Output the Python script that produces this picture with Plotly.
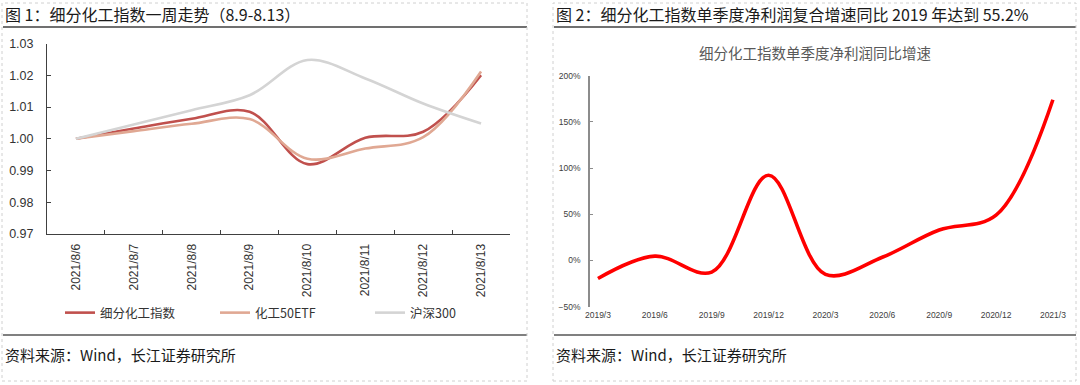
import plotly.graph_objects as go

W, H = 1080, 385

# ---------------- data ----------------
dates = ["2021/8/6", "2021/8/7", "2021/8/8", "2021/8/9",
         "2021/8/10", "2021/8/11", "2021/8/12", "2021/8/13"]
fine_chem = [1.000, 1.0032, 1.0063, 1.0085, 0.9920, 1.0003, 1.0022, 1.0200]
etf50 = [1.000, 1.0024, 1.0047, 1.0062, 0.9937, 0.9969, 1.0005, 1.0212]
hs300 = [1.000, 1.0045, 1.0090, 1.0137, 1.0248, 1.0190, 1.0111, 1.0048]
left_ticks = [0.97, 0.98, 0.99, 1.00, 1.01, 1.02, 1.03]

quarters = ["2019/3", "2019/6", "2019/9", "2019/12", "2020/3",
            "2020/6", "2020/9", "2020/12", "2021/3"]
profit_yoy = [-0.195, 0.047, -0.125, 0.923, -0.15, 0.035, 0.33, 0.49, 1.74]
right_ticks = [-0.5, 0.0, 0.5, 1.0, 1.5, 2.0]

FONT = "Liberation Sans, Arial, Noto Sans CJK SC, sans-serif"
CJK = "Noto Sans CJK SC, Liberation Sans, sans-serif"


def px(x):
    return x / W


def py(y):
    return 1 - y / H


fig = go.Figure()

fig.add_trace(go.Scatter(x=dates, y=fine_chem, name="细分化工指数", mode="lines",
                         line=dict(color="#C0504D", width=2.6, shape="spline"),
                         xaxis="x", yaxis="y"))
fig.add_trace(go.Scatter(x=dates, y=etf50, name="化工50ETF", mode="lines",
                         line=dict(color="#E0A893", width=2.6, shape="spline"),
                         xaxis="x", yaxis="y"))
fig.add_trace(go.Scatter(x=dates, y=hs300, name="沪深300", mode="lines",
                         line=dict(color="#D4D4D4", width=2.6, shape="spline"),
                         xaxis="x", yaxis="y"))

fig.add_trace(go.Scatter(x=quarters, y=profit_yoy, name="同比增速", mode="lines",
                         line=dict(color="#FF0000", width=3.6, shape="spline"),
                         showlegend=False, xaxis="x2", yaxis="y2"))

# right chart geometry
y2_top, y2_bot = 75.7, 306.7
y2_min, y2_max = -0.5, 2.0
zero_y = y2_bot - (0 - y2_min) / (y2_max - y2_min) * (y2_bot - y2_top)

fig.update_layout(
    width=W, height=H,
    margin=dict(l=0, r=0, t=0, b=0, autoexpand=False),
    paper_bgcolor="white", plot_bgcolor="white",
    font=dict(family=FONT, color="#333333"),
    xaxis=dict(domain=[px(47), px(510)], anchor="y", type="category", automargin=False,
               range=[-0.5, 7.5], showgrid=False, zeroline=False,
               showline=True, linecolor="#404040", linewidth=1,
               ticks="inside", ticklen=4, tickcolor="#404040", tickson="boundaries",
               tickangle=-90, tickfont=dict(size=12, color="#333333"),
               ticklabelstandoff=4),
    yaxis=dict(domain=[py(234), py(43.5)], anchor="x", range=[0.97, 1.03], automargin=False,
               tickvals=left_ticks, tickformat=".2f", showgrid=False, zeroline=False,
               showline=True, linecolor="#404040", linewidth=1,
               ticks="inside", ticklen=4, tickcolor="#404040",
               tickfont=dict(size=12.5, color="#333333"), ticklabelstandoff=10),
    xaxis2=dict(domain=[px(590), px(1062)], anchor="y2", type="category", automargin=False,
                range=[-0.14, 8.16], showgrid=False, zeroline=False, showline=False,
                ticks="", tickfont=dict(size=8.5, color="#404040"),
                ticklabelstandoff=2),
    xaxis3=dict(domain=[px(590), px(1062)], anchor="free", overlaying="x2", automargin=False,
                position=py(zero_y), range=[-0.14, 8.16], type="linear",
                tickvals=list(range(len(quarters))), showticklabels=False,
                showgrid=False, zeroline=False, showline=True,
                linecolor="#A6A6A6", linewidth=1.5, ticks="inside", ticklen=3,
                tickcolor="#A6A6A6"),
    yaxis2=dict(domain=[py(y2_bot), py(y2_top)], anchor="x2", range=[y2_min, y2_max],
                automargin=False,
                tickvals=right_ticks, tickformat=".0%", showgrid=False, zeroline=False,
                showline=True, linecolor="#8C8C8C", linewidth=1.5,
                ticks="inside", ticklen=3, tickcolor="#8C8C8C",
                tickfont=dict(size=8.5, color="#404040"), ticklabelstandoff=6),
    legend=dict(orientation="h", x=px(60), xanchor="left", y=py(313), yanchor="middle",
                entrywidth=110, entrywidthmode="pixels", bgcolor="rgba(0,0,0,0)",
                font=dict(size=12.5, family=CJK, color="#333333"), itemwidth=30),
    showlegend=True,
)

annotations = [
    dict(text="图 1：细分化工指数一周走势（8.9-8.13）", x=px(3), y=py(14)),
    dict(text="图 2：细分化工指数单季度净利润复合增速同比 2019 年达到 55.2%", x=px(554), y=py(14)),
    dict(text="资料来源：Wind，长江证券研究所", x=px(3), y=py(354), size=15),
    dict(text="资料来源：Wind，长江证券研究所", x=px(554), y=py(354), size=15),
]
for a in annotations:
    fig.add_annotation(text=a["text"], x=a["x"], y=a["y"], xref="paper", yref="paper",
                       xanchor="left", yanchor="middle", showarrow=False,
                       font=dict(size=a.get("size", 16), family=CJK, color="#1a1a1a"))
fig.add_annotation(text="细分化工指数单季度净利润同比增速", x=px(815), y=py(53),
                   xref="paper", yref="paper", xanchor="center", yanchor="middle",
                   showarrow=False, font=dict(size=14.5, family=CJK, color="#595959"))

shapes = []
for x0, x1 in [(3, 527), (554, 1076)]:
    shapes.append(dict(type="line", xref="paper", yref="paper", x0=px(x0), x1=px(x1),
                       y0=py(27), y1=py(27), line=dict(color="#404040", width=1.3)))
    shapes.append(dict(type="line", xref="paper", yref="paper", x0=px(x0), x1=px(x1),
                       y0=py(335), y1=py(335), line=dict(color="#808080", width=1.8)))
for x0, x1 in [(2, 527), (553, 1076)]:
    shapes.append(dict(type="rect", xref="paper", yref="paper", x0=px(x0), x1=px(x1),
                       y0=py(381), y1=py(3), line=dict(color="#D0D0D0", width=1, dash="dot")))
fig.update_layout(shapes=shapes)

fig.write_html("out.html", config={"displayModeBar": False},
               post_script="document.body.style.margin='0px';document.body.style.overflow='hidden';")
